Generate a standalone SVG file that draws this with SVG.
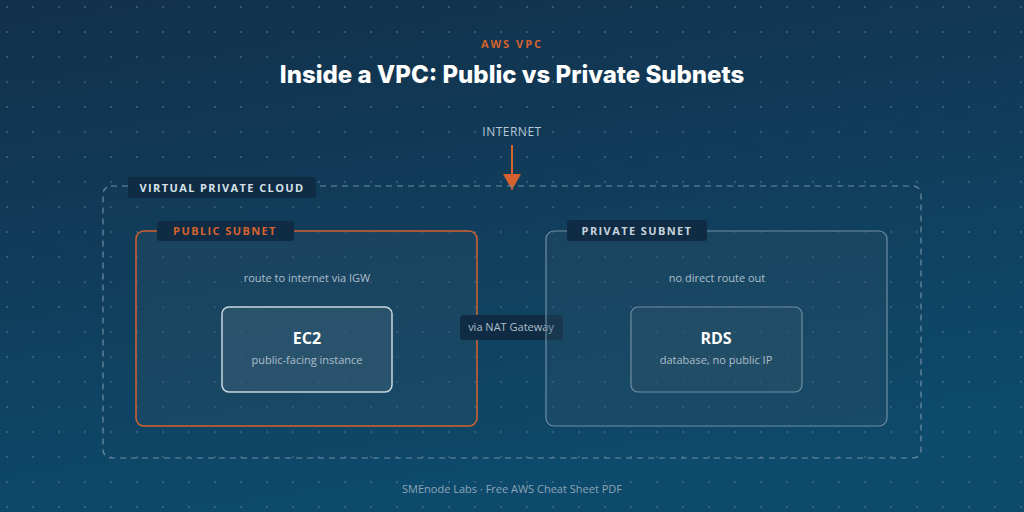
<svg xmlns="http://www.w3.org/2000/svg" width="1024" height="512" viewBox="0 0 1024 512">
<defs>
<linearGradient id="bg" x1="0" y1="0" x2="0.3" y2="1"><stop offset="0" stop-color="#13304a"/><stop offset="1" stop-color="#0d4a6c"/></linearGradient>
<pattern id="dots" x="3" y="3" width="26" height="25" patternUnits="userSpaceOnUse"><circle cx="4" cy="4" r="1" fill="#5f8299" opacity="0.6"/></pattern>
<marker id="ah" markerWidth="16" markerHeight="18" refX="16" refY="9" orient="auto" markerUnits="userSpaceOnUse" viewBox="0 0 16 18"><path d="M0,0 L16,9 L0,18 Z" fill="#d5622e"/></marker>
<style>
text{font-family:"Open Sans","DejaVu Sans",sans-serif}
.tag{fill:#0f2c44}
.tagt{font-size:11px;font-weight:700;letter-spacing:1.4px;text-anchor:middle}
.small{font-size:11px;fill:#aebfcc;text-anchor:middle}
.card{fill:#2c4f66;fill-opacity:0.35}
</style>
</defs>
<rect width="1024" height="512" fill="url(#bg)"/>
<rect width="1024" height="512" fill="url(#dots)"/>
<text x="512" y="48" text-anchor="middle" font-size="11" font-weight="700" letter-spacing="2" fill="#d5622e">AWS VPC</text>
<text x="512" y="83" text-anchor="middle" font-size="24" font-weight="800" fill="#ffffff" style="font-family:Inter,'Open Sans',sans-serif">Inside a VPC: Public vs Private Subnets</text>
<text x="512" y="136" text-anchor="middle" font-size="12" fill="#b8c8d4" letter-spacing="0.5">INTERNET</text>
<g id="connectors">
<line x1="512" y1="145" x2="512" y2="190" stroke="#d5622e" stroke-width="2" marker-end="url(#ah)"/>
</g>
<g id="vpc">
<rect x="103" y="186" width="818" height="272" rx="8" fill="#1a4460" fill-opacity="0.15" stroke="#6f8ea3" stroke-width="1.2" stroke-dasharray="6 5"/>
<rect x="128" y="177" width="188" height="21" rx="3" class="tag"/>
<text x="222" y="192" class="tagt" fill="#d6e1ea">VIRTUAL PRIVATE CLOUD</text>
</g>
<g id="public-subnet">
<rect x="136" y="231" width="341" height="195" rx="8" class="card" stroke="#d5622e" stroke-width="1.5"/>
<rect x="157" y="221" width="137" height="20" rx="3" class="tag"/>
<text x="225" y="235" class="tagt" fill="#d5622e">PUBLIC SUBNET</text>
<text x="307" y="282" class="small" font-size="11.5" fill="#d0dce5">route to internet via IGW</text>
</g>
<g id="ec2">
<rect x="222" y="307" width="170" height="85" rx="7" fill="#3a5f75" fill-opacity="0.5" stroke="#c9d6df" stroke-width="1.5"/>
<text x="307" y="344" text-anchor="middle" font-size="16" font-weight="700" fill="#ffffff">EC2</text>
<text x="307" y="364" class="small">public-facing instance</text>
</g>
<g id="nat">
<rect x="460" y="315" width="103" height="25" rx="4" fill="#0f2c44"/>
<text x="511" y="331" class="small" font-size="10" fill="#c5d3dd">via NAT Gateway</text>
</g>
<g id="private-subnet">
<rect x="546" y="231" width="341" height="195" rx="8" class="card" stroke="#6f8ea3" stroke-width="1.2"/>
<rect x="567" y="220" width="140" height="21" rx="3" class="tag"/>
<text x="637" y="235" class="tagt" fill="#c7d4de">PRIVATE SUBNET</text>
<text x="717" y="282" class="small" font-size="11.5" fill="#93a8b8">no direct route out</text>
</g>
<g id="rds">
<rect x="631" y="307" width="171" height="85" rx="7" fill="#2f5469" fill-opacity="0.4" stroke="#6f8ea3" stroke-width="1.2"/>
<text x="716" y="344" text-anchor="middle" font-size="16" font-weight="700" fill="#ffffff">RDS</text>
<text x="716" y="364" class="small" fill="#a2b5c3">database, no public IP</text>
</g>
<text x="512" y="493" text-anchor="middle" font-size="11" fill="#8ea5b6">SMEnode Labs · Free AWS Cheat Sheet PDF</text>
</svg>
